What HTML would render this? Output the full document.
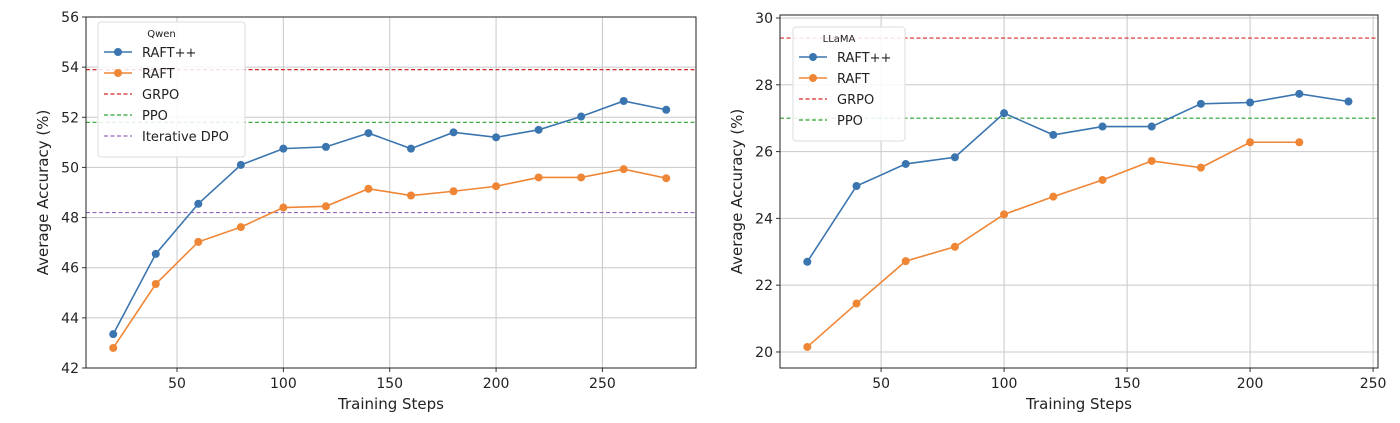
<!DOCTYPE html>
<html><head><meta charset="utf-8"><style>
body{margin:0;background:#fff;}
svg{display:block;font-family:"DejaVu Sans","Liberation Sans",sans-serif;}
</style></head><body>
<svg id="c" width="1400" height="423" viewBox="0 0 1400 423"></svg>
<script>
const stepsL=[20,40,60,80,100,120,140,160,180,200,220,240,260,280];
const raftppL=[43.35,46.55,48.55,50.1,50.75,50.82,51.37,50.75,51.4,51.2,51.5,52.03,52.65,52.3];
const raftL=[42.8,45.35,47.03,47.62,48.4,48.45,49.15,48.88,49.05,49.25,49.6,49.6,49.93,49.57];
const baselinesL=[53.9,51.8,48.2];
const baselineNamesL=["GRPO","PPO","Iterative DPO"];
const yTicksL=[42,44,46,48,50,52,54,56];
const xTicksL=[50,100,150,200,250];
const stepsRpp=[20,40,60,80,100,120,140,160,180,200,220,240];
const raftppR=[22.7,24.97,25.63,25.83,27.15,26.5,26.75,26.75,27.43,27.47,27.73,27.5];
const stepsR=[20,40,60,80,100,120,140,160,180,200,220];
const raftR=[20.15,21.45,22.72,23.15,24.12,24.65,25.15,25.72,25.52,26.28,26.28];
const baselinesR=[29.4,27.0];
const baselineNamesR=["GRPO","PPO"];
const yTicksR=[20,22,24,26,28,30];
const xTicksR=[50,100,150,200,250];

const NS="http://www.w3.org/2000/svg";
const svg=document.getElementById('c');
function mk(t,a,p){const e=document.createElementNS(NS,t);for(const k in a)e.setAttribute(k,a[k]);(p||svg).appendChild(e);return e;}
const blue="#3a75af",orange="#ef8636",bcol=["#d62728","#2ca02c","#9467bd"];

function panel(o){
  const g=mk('g',{});
  
  
  const sx=v=>o.L+(v-o.x0)/(o.x1-o.x0)*(o.R-o.L);
  const sy=v=>o.B-(v-o.y0)/(o.y1-o.y0)*(o.B-o.T);
  o.yt.forEach(t=>{const y=sy(t);
    const l=mk('line',{x1:o.L,x2:o.R,y1:y,y2:y,stroke:"#c8c8c8","stroke-width":1},g);
    
    mk('line',{x1:o.L-4,x2:o.L,y1:y,y2:y,stroke:"#333"},g);
    const tx=mk('text',{x:o.L-7,y:y+5,"text-anchor":"end","font-size":14,fill:"#222"},g);tx.textContent=t;
    });
  o.xt.forEach(t=>{const x=sx(t);
    const l=mk('line',{x1:x,x2:x,y1:o.T,y2:o.B,stroke:"#c8c8c8","stroke-width":1},g);
    
    mk('line',{x1:x,x2:x,y1:o.B,y2:o.B+4,stroke:"#333"},g);
    const tx=mk('text',{x:x,y:o.B+20,"text-anchor":"middle","font-size":14,fill:"#222"},g);tx.textContent=t;
    });
  o.bl.forEach((v,i)=>{const y=sy(v);
    const l=mk('line',{x1:o.L,x2:o.R,y1:y,y2:y,stroke:bcol[i],"stroke-width":1.2,"stroke-dasharray":"4,2.5"},g);
    });
  [[o.xs2,o.s2,orange,'raft'],[o.xs1,o.s1,blue,'raft-plus-plus']].forEach(([xs,ys,c,n])=>{
    const p=mk('polyline',{points:xs.map((x,i)=>sx(x)+","+sy(ys[i])).join(" "),fill:"none",stroke:c,"stroke-width":1.6},g);
    
    xs.forEach((x,i)=>{const m=mk('circle',{cx:sx(x),cy:sy(ys[i]),r:4,fill:c},g);
      });
  });
  const f=mk('rect',{x:o.L,y:o.T,width:o.R-o.L,height:o.B-o.T,fill:"none",stroke:"#222","stroke-width":1},g);
  
  const xl=mk('text',{x:(o.L+o.R)/2,y:o.B+41,"text-anchor":"middle","font-size":15,fill:"#222"},g);xl.textContent="Training Steps";
  
  const cy=(o.T+o.B)/2;
  const yl=mk('text',{x:o.yx,y:cy,"text-anchor":"middle","font-size":15,fill:"#222",transform:`rotate(-90 ${o.yx} ${cy})`},g);yl.textContent="Average Accuracy (%)";
  
  const lg=mk('g',{},g);
  
  const n=2+o.bl.length;
  mk('rect',{x:o.lx,y:o.ly,width:o.lw,height:30+n*21,rx:3,fill:"#fff","fill-opacity":0.85,stroke:"#ddd"},lg);
  const tt=mk('text',{x:o.lx+o.lw/2-10,y:o.ly+15,"text-anchor":"middle","font-size":10,fill:"#222"},lg);tt.textContent=o.title;
  
  const items=[["RAFT++",blue,1],["RAFT",orange,1]].concat(o.bn.map((b,i)=>[b,bcol[i],0]));
  items.forEach((it,i)=>{const y=o.ly+30+i*21;
    mk('line',{x1:o.lx+6,x2:o.lx+34,y1:y,y2:y,stroke:it[1],"stroke-width":it[2]?1.6:1.2,"stroke-dasharray":it[2]?"":"4,2.5"},lg);
    if(it[2])mk('circle',{cx:o.lx+20,cy:y,r:4,fill:it[1]},lg);
    const t=mk('text',{x:o.lx+44,y:y+5,"font-size":13,fill:"#222"},lg);t.textContent=it[0];
    });
}
panel({name:'qwen-panel',L:86,R:696,T:17,B:368,x0:7.2,x1:294,y0:42,y1:56,xt:xTicksL,yt:yTicksL,
  xs1:stepsL,s1:raftppL,xs2:stepsL,s2:raftL,bl:baselinesL,bn:baselineNamesL,yx:48,title:"Qwen",lx:98,ly:22,lw:147});
panel({name:'llama-panel',L:780,R:1378,T:15,B:368,x0:8.9,x1:252,y0:19.52,y1:30.09,xt:xTicksR,yt:yTicksR,
  xs1:stepsRpp,s1:raftppR,xs2:stepsR,s2:raftR,bl:baselinesR,bn:baselineNamesR,yx:742,title:"LLaMA",lx:793,ly:27,lw:112});
</script>
</body></html>
